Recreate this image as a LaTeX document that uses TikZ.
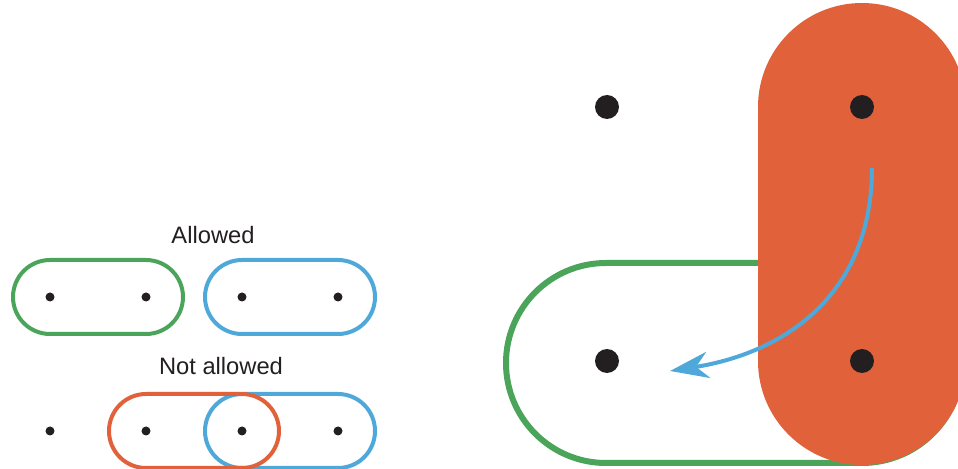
\documentclass[tikz,border=0pt]{standalone}
\usepackage{fontspec}
\setmainfont{Liberation Sans}
\usetikzlibrary{arrows.meta}
\definecolor{pgreen}{RGB}{74,165,90}
\definecolor{porange}{RGB}{225,98,58}
\definecolor{pblue}{RGB}{79,168,218}
\definecolor{pdot}{RGB}{35,31,32}
\tikzset{
  smalldot/.style={circle,fill=pdot,inner sep=0pt,minimum size=0.18cm},
  bigdot/.style={circle,fill=pdot,inner sep=0pt,minimum size=0.48cm},
  smallpill/.style={line width=0.08cm,rounded corners=0.74cm},
  lbl/.style={font=\fontsize{13.5pt}{16pt}\selectfont,text=pdot,inner sep=0pt}
}
\begin{document}
\begin{tikzpicture}[x=0.02cm,y=-0.02cm]
\useasboundingbox (0,0) rectangle (958,469);
\clip (0,0) rectangle (958,469);
% left: allowed
\node[lbl] (allowed) at (213,235) {Allowed};
\draw[smallpill,pgreen] (13,260) rectangle (183,334);
\draw[smallpill,pblue] (205,260) rectangle (375,334);
\foreach \x/\n in {50/a,146/b,242/c,338/d}
  \node[smalldot] (r1\n) at (\x,297) {};
% left: not allowed
\node[lbl] (notallowed) at (221,366) {Not allowed};
\draw[smallpill,pblue] (205,394) rectangle (375,468);
\draw[smallpill,porange] (109,394) rectangle (279,468);
\foreach \x/\n in {50/a,146/b,242/c,338/d}
  \node[smalldot] (r2\n) at (\x,431) {};
% right
\draw[pgreen,line width=0.12cm,rounded corners=2.0cm] (506,263) rectangle (962,463);
\fill[porange,rounded corners=2.08cm] (758,3) rectangle (966,465);
\node[bigdot] (tl) at (607,107) {};
\node[bigdot] (tr) at (862,107) {};
\node[bigdot] (bl) at (607,361) {};
\node[bigdot] (br) at (862,361) {};
\coordinate (astart) at (872,168);
\coordinate (aend) at (670,371);
\draw[pblue,line width=0.08cm,-{Stealth[length=22pt,width=15pt,inset=7pt]}]
  (astart) .. controls (872,290) and (790,352) .. (aend);
\end{tikzpicture}
\end{document}
